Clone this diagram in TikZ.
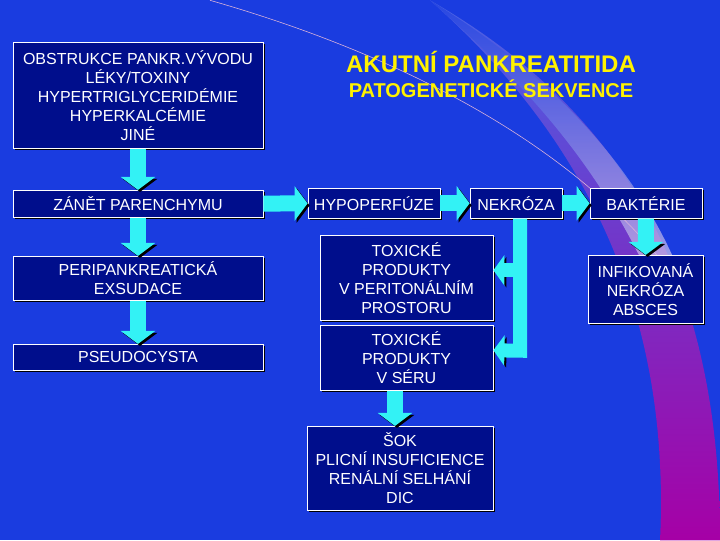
\documentclass[tikz,border=0pt]{standalone}
\usepackage{fontspec}
\setmainfont{Liberation Sans}
\usetikzlibrary{arrows.meta,shadows}
\definecolor{bgblue}{HTML}{1A3CE0}
\definecolor{boxblue}{HTML}{000E8C}
\definecolor{arrcyan}{HTML}{33F2F5}
\tikzset{
  box/.style={draw=white,line width=0.8pt,fill=boxblue,text=white,align=center,
    font=\fontsize{16}{19}\selectfont,inner sep=1pt,
    drop shadow={shadow xshift=2pt,shadow yshift=-2pt,fill=black,opacity=1}},
  blk/.style={draw=arrcyan,line width=16pt,-{Triangle[width=34pt,length=13pt]},
    preaction={draw=black,transform canvas={shift={(2pt,-2pt)}}}},
  bar/.style={draw=arrcyan,line width=14pt,-{Triangle[width=30pt,length=11pt]},
    preaction={draw=black,transform canvas={shift={(2pt,-2pt)}}}},
}
\begin{document}
\begin{tikzpicture}[x=1pt,y=-1pt]
  \fill[bgblue] (0,0) rectangle (720,540);
  \shade[top color=bgblue!80!white,bottom color=violet!70!magenta]
    (430,0) .. controls (640,120) and (720,300) .. (720,540) -- (660,540)
    .. controls (670,330) and (600,150) .. (430,0);
  \shade[top color=bgblue,bottom color=white!85!violet,opacity=0.7]
    (430,0) .. controls (560,80) and (650,180) .. (690,300) -- (660,300)
    .. controls (600,160) and (520,80) .. (430,0);
  \draw[violet!30,line width=0.6pt] (210,0) .. controls (420,60) and (600,160) .. (690,300);
  \useasboundingbox (0,0) rectangle (720,540);

  % title
  \node[text=yellow,font=\bfseries\fontsize{24}{26}\selectfont] (title) at (491,62) {AKUTNÍ PANKREATITIDA};
  \node[text=yellow,font=\bfseries\fontsize{20}{22}\selectfont] (subtitle) at (491,88) {PATOGENETICKÉ SEKVENCE};

  % left column
  \node[box,minimum width=250pt,minimum height=106pt] (cause) at (138,95)
    {OBSTRUKCE PANKR.VÝVODU\\LÉKY/TOXINY\\HYPERTRIGLYCERIDÉMIE\\HYPERKALCÉMIE\\JINÉ};
  \node[box,minimum width=250pt,minimum height=27pt] (zanet) at (138,203.5) {ZÁNĚT PARENCHYMU};
  \node[box,minimum width=250pt,minimum height=44pt] (exsud) at (138,278) {PERIPANKREATICKÁ\\EXSUDACE};
  \node[box,minimum width=250pt,minimum height=26pt] (pseudo) at (138,357) {PSEUDOCYSTA};

  % top row
  \node[box,minimum width=132pt,minimum height=30pt] (hypo) at (374,203) {HYPOPERFÚZE};
  \node[box,minimum width=92pt,minimum height=30pt] (nekr) at (516,203) {NEKRÓZA};
  \node[box,minimum width=112pt,minimum height=30pt] (bakt) at (646,203) {BAKTÉRIE};
  \node[box,minimum width=115pt,minimum height=68pt] (infik) at (645.5,289) {INFIKOVANÁ\\NEKRÓZA\\ABSCES};

  % middle
  \node[box,minimum width=173pt,minimum height=85pt] (toxper) at (406.5,277.5)
    {TOXICKÉ\\PRODUKTY\\V PERITONÁLNÍM\\PROSTORU};
  \node[box,minimum width=173pt,minimum height=65pt] (toxser) at (406.5,357.5)
    {TOXICKÉ\\PRODUKTY\\V SÉRU};
  \node[box,minimum width=186pt,minimum height=84pt] (sok) at (400,468)
    {ŠOK\\PLICNÍ INSUFICIENCE\\RENÁLNÍ SELHÁNÍ\\DIC};

  % arrows
  \draw[blk] (cause) -- (zanet);
  \draw[blk] (zanet) -- (exsud);
  \draw[blk] (exsud) -- (pseudo);
  \draw[blk] (zanet) -- (hypo);
  \draw[blk] (hypo) -- (nekr);
  \draw[blk] (nekr) -- (bakt);
  \draw[blk] (bakt) -- (infik);
  \draw[blk] (toxser.south -| sok.north) ++(-5,0) coordinate (ts) -- (ts |- sok.north);
  \coordinate (nb) at ([xshift=4pt]nekr.south);
  \draw[bar] (nb |- 0,270) -- (toxper.east |- 0,270);
  \draw[bar] (nb) -- ++(0,132) -- (toxser.east |- 0,350);
\end{tikzpicture}
\end{document}
